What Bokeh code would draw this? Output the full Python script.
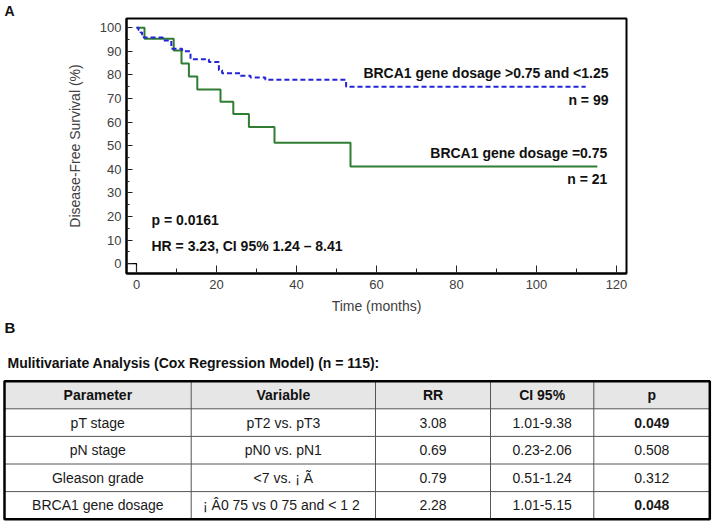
from bokeh.plotting import figure
from bokeh.models import Range1d, Label, FixedTicker, Title
from bokeh.layouts import column
from bokeh.embed import file_html
from bokeh.resources import INLINE
from bokeh.core.properties import value

# ---------------- data ----------------
green_time = [0, 2.0, 9.3, 11.25, 13.1, 15.2, 21.0, 24.2, 28.1, 34.5, 53.5, 115.2]
green_surv = [100, 95.3, 90.3, 84.8, 79.3, 73.8, 68.6, 63.4, 57.9, 51.2, 41.2, 41.2]

blue_time = [0, 0.5, 1.0, 1.4, 1.8, 6.6, 8.7, 11.4, 13.5, 18.1, 20.6, 21.4, 26.0, 28.5, 32.2, 52.4, 112.3]
blue_surv = [100, 99, 98, 97, 95.8, 94.6, 91.1, 90.0, 86.6, 85.5, 82.0, 80.7, 79.6, 78.9, 77.9, 75.0, 75.0]

origin_time = [-2.5, 0, 0]
origin_surv = [0, 0, -4.2]

x_ticks = [0, 20, 40, 60, 80, 100, 120]
x_minor = [10, 30, 50, 70, 90, 110]
y_ticks = [0, 10, 20, 30, 40, 50, 60, 70, 80, 90, 100]
y_minor = [5, 15, 25, 35, 45, 55, 65, 75, 85, 95]

label_high = "BRCA1 gene dosage >0.75 and <1.25"
n_high = "n = 99"
label_low = "BRCA1 gene dosage =0.75"
n_low = "n = 21"
p_text = "p = 0.0161"
hr_text = "HR = 3.23, CI 95% 1.24 \u2013 8.41"
panel_a = "A"
panel_b = "B"

table_title = "Mulitivariate Analysis (Cox Regression Model) (n = 115):"
headers = ["Parameter", "Variable", "RR", "CI 95%", "p"]
params = ["pT stage", "pN stage", "Gleason grade", "BRCA1 gene dosage"]
variables = ["pT2 vs. pT3", "pN0 vs. pN1", "<7 vs. \u00a1 \u00c3", "\u00a1 \u00c20 75 vs  0 75 and < 1 2"]
rr = ["3.08", "0.69", "0.79", "2.28"]
ci95 = ["1.01-9.38", "0.23-2.06", "0.51-1.24", "1.01-5.15"]
pvals = ["0.049", "0.508", "0.312", "0.048"]

FONT = "Liberation Sans"
GREEN = "#2f7d32"
BLUE = "#2323d8"

W = 714
KM_H = 335
TB_H = 190
FRAME_LEFT = 126

# ---------------- Kaplan-Meier figure ----------------
km = figure(width=W, height=KM_H, x_range=Range1d(-2.5, 122.5), y_range=Range1d(-4.2, 103.9),
            output_backend="svg", toolbar_location=None,
            min_border_left=FRAME_LEFT, min_border_right=88, min_border_top=17, min_border_bottom=60)
km.frame_align = False
km.grid.visible = False
km.outline_line_color = "black"
km.outline_line_width = 2
km.background_fill_color = "white"

km.title.text = panel_a
km.title.text_font = FONT
km.title.text_font_size = "14px"
km.title.text_font_style = "bold"
km.title.text_color = "#111111"
km.title.align = "left"
km.title.offset = 4 - FRAME_LEFT
km.title.standoff = 0

km.xaxis.ticker = FixedTicker(ticks=x_ticks, minor_ticks=x_minor)
km.yaxis.ticker = FixedTicker(ticks=y_ticks, minor_ticks=y_minor)
for ax in (km.xaxis[0], km.yaxis[0]):
    ax.axis_line_color = "black"
    ax.axis_line_width = 2
    ax.major_tick_out = 0
    ax.minor_tick_out = 0
    ax.major_tick_line_color = "#222222"
    ax.minor_tick_line_color = "#222222"
    ax.major_label_text_font = FONT
    ax.major_label_text_font_size = "13px"
    ax.major_label_text_color = "#404040"
    ax.axis_label_text_font = FONT
    ax.axis_label_text_font_size = "14px"
    ax.axis_label_text_font_style = "normal"
    ax.axis_label_text_color = "#404040"
km.xaxis.major_tick_in = 8
km.xaxis.minor_tick_in = 5
km.yaxis.major_tick_in = 6
km.yaxis.minor_tick_in = 3
km.xaxis.major_label_standoff = 6
km.yaxis.major_label_standoff = 5
km.xaxis.axis_label = "Time (months)"
km.yaxis.axis_label = "Disease-Free Survival (%)"
km.xaxis.axis_label_standoff = 6
km.yaxis.axis_label_standoff = 14

km.add_layout(Title(text=panel_b, text_font=FONT, text_font_size="15px", text_font_style="bold",
                    text_color="#111111", align="left", offset=4 - FRAME_LEFT, standoff=0),
              "below")

km.step(green_time, green_surv, mode="after", line_color=GREEN, line_width=2)
km.step(blue_time, blue_surv, mode="after", line_color=BLUE, line_width=2, line_dash="5 3")
km.line(origin_time, origin_surv, line_color="black", line_width=1.2)

def lbl(x, y, text, align="left", size="14px"):
    km.add_layout(Label(x=x, y=y, text=text, text_font=FONT,
                        text_font_size=size, text_font_style="bold", text_align=align,
                        text_baseline="middle", text_color="#111111"))

lbl(118.0, 80.6, label_high, "right")
lbl(118.0, 69.3, n_high, "right")
lbl(117.7, 46.8, label_low, "right")
lbl(117.7, 35.9, n_low, "right")
lbl(3.75, 18.3, p_text)
lbl(3.75, 7.5, hr_text)

# ---------------- table figure ----------------
tf = figure(width=W, height=TB_H, x_range=Range1d(0, W), y_range=Range1d(KM_H + TB_H, KM_H),
            output_backend="svg", toolbar_location=None, min_border=0,
            x_axis_location=None, y_axis_location=None)
tf.frame_align = False
tf.grid.visible = False
tf.outline_line_color = None

col_edges = [4, 190.7, 375, 490, 593.3, 709.3]
top = 380.7
row_h = 27.6
n_rows = 1 + len(params)
row_edges = [top + i * row_h for i in range(n_rows + 1)]
col_centers = [(col_edges[i] + col_edges[i + 1]) / 2 for i in range(len(col_edges) - 1)]
row_centers = [(row_edges[i] + row_edges[i + 1]) / 2 for i in range(n_rows)]

tf.quad(left=[col_edges[0]], right=[col_edges[-1]], top=[row_edges[0]], bottom=[row_edges[1]],
        fill_color="#e6e6e6", line_color=None)
tf.segment(x0=col_edges[1:-1], x1=col_edges[1:-1], y0=[row_edges[0]] * 4, y1=[row_edges[-1]] * 4,
           line_color="#555555", line_width=1)
tf.segment(x0=[col_edges[0]] * (n_rows - 1), x1=[col_edges[-1]] * (n_rows - 1),
           y0=row_edges[1:-1], y1=row_edges[1:-1], line_color="#555555", line_width=1)
tf.quad(left=[col_edges[0]], right=[col_edges[-1]], top=[row_edges[0]], bottom=[row_edges[-1]],
        fill_color=None, line_color="black", line_width=2.5)

tf.text(x=col_centers, y=[row_centers[0]] * 5, text=headers, text_font=value(FONT),
        text_font_size="14px", text_font_style="bold", text_align="center",
        text_baseline="middle", text_color="#111111")

columns = [params, variables, rr, ci95]
for ci_, vals in enumerate(columns):
    tf.text(x=[col_centers[ci_]] * len(vals), y=row_centers[1:], text=vals, text_font=value(FONT),
            text_font_size="14px", text_align="center", text_baseline="middle",
            text_color="#1a1a1a")

bold_idx = [i for i, v in enumerate(pvals) if float(v) < 0.05]
norm_idx = [i for i, v in enumerate(pvals) if float(v) >= 0.05]
tf.text(x=[col_centers[4]] * len(bold_idx), y=[row_centers[1 + i] for i in bold_idx],
        text=[pvals[i] for i in bold_idx], text_font=value(FONT), text_font_size="14px",
        text_font_style="bold", text_align="center", text_baseline="middle", text_color="#1a1a1a")
tf.text(x=[col_centers[4]] * len(norm_idx), y=[row_centers[1 + i] for i in norm_idx],
        text=[pvals[i] for i in norm_idx], text_font=value(FONT), text_font_size="14px",
        text_align="center", text_baseline="middle", text_color="#1a1a1a")

tf.text(x=[7], y=[362], text=[table_title], text_font=value(FONT), text_font_size="14px",
        text_font_style="bold", text_align="left", text_baseline="middle", text_color="#111111")

layout = column(km, tf, spacing=0)
open("out.html", "w").write(file_html(layout, INLINE))
